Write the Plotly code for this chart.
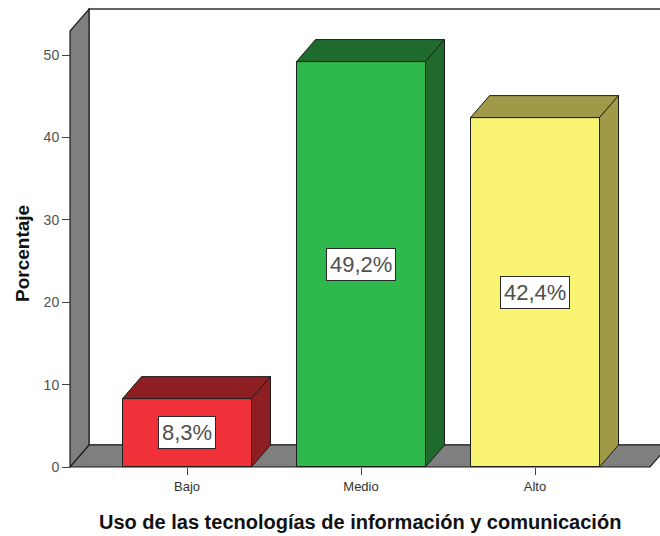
import plotly.graph_objects as go

categories = ["Bajo", "Medio", "Alto"]
values = [8.3, 49.2, 42.4]
front_colors = ["#f0313a", "#2fb84b", "#f9f472"]
dark_colors = ["#8f1e22", "#1e6b2d", "#a09a48"]
y_ticks = [0, 10, 20, 30, 40, 50]

# geometry (data units)
W, H = 660, 536
ml, mr, mt, mb = 60, 0, 6, 60
px_x = 174.0          # pixels per category unit
px_y = 8.24           # pixels per percent
x0_pix = 187          # pixel of first category
zero_pix = 467
xmin = (ml - x0_pix) / px_x
xmax = (W - mr - x0_pix) / px_x
ymin = -(H - mb - zero_pix) / px_y
ymax = (zero_pix - mt) / px_y
dx = 19 / px_x
dy = 22 / px_y
bw = 129 / px_x
hw = bw / 2
xl = (70 - x0_pix) / px_x          # front-left wall x
xr = (650 - x0_pix) / px_x         # front-right floor x
ytop = (zero_pix - 9) / px_y       # back wall top

xs = list(range(len(categories)))

def poly(pts):
    return "M " + " L ".join(f"{a},{b}" for a, b in pts) + " Z"

edge = "#1e1e1e"
gray = "#7f7f7f"
font = "Arial, Liberation Sans, sans-serif"
shapes = []
# back wall
shapes.append(dict(type="path", xref="x", yref="y", layer="below",
                   path=poly([(xl + dx, dy), (xl + dx, ytop), (xmax + 1, ytop), (xmax + 1, dy)]),
                   fillcolor="white", line=dict(color="#333333", width=1.3)))
# floor
shapes.append(dict(type="path", xref="x", yref="y", layer="below",
                   path=poly([(xl, 0), (xr, 0), (xr + dx, dy), (xl + dx, dy)]),
                   fillcolor=gray, line=dict(color=edge, width=1.2)))
# left wall
shapes.append(dict(type="path", xref="x", yref="y", layer="below",
                   path=poly([(xl, 0), (xl, ytop - dy), (xl + dx, ytop), (xl + dx, dy)]),
                   fillcolor=gray, line=dict(color=edge, width=1.2)))

for i, v in enumerate(values):
    c = xs[i]
    top = [(c - hw, v), (c - hw + dx, v + dy), (c + hw + dx, v + dy), (c + hw, v)]
    side = [(c + hw, 0), (c + hw, v), (c + hw + dx, v + dy), (c + hw + dx, dy)]
    for p in (top, side):
        shapes.append(dict(type="path", xref="x", yref="y", layer="above",
                           path=poly(p), fillcolor=dark_colors[i],
                           line=dict(color=edge, width=1)))

fig = go.Figure()
fig.add_trace(go.Bar(x=xs, y=values, width=bw,
                     marker=dict(color=front_colors, line=dict(color=edge, width=1)),
                     hoverinfo="skip", showlegend=False))

annotations = []
for i, v in enumerate(values):
    annotations.append(dict(x=xs[i], y=v / 2, xref="x", yref="y",
                            text=f"{v:.1f}".replace(".", ",") + "%", showarrow=False,
                            font=dict(family=font, size=22, color="#505050"),
                            bgcolor="white", bordercolor="#2a2a2a", borderwidth=1, borderpad=3))
annotations.append(dict(xref="paper", yref="paper",
                        x=(360 - ml) / (W - ml - mr), y=(H - mb - 522) / (H - mt - mb),
                        text="<b>Uso de las tecnologías de información y comunicación</b>",
                        showarrow=False, xanchor="center", yanchor="middle",
                        font=dict(family=font, size=20, color="#111111")))
annotations.append(dict(xref="paper", yref="paper",
                        x=(22 - ml) / (W - ml - mr), y=(H - mb - 254) / (H - mt - mb),
                        text="<b>Porcentaje</b>", textangle=-90,
                        showarrow=False, xanchor="center", yanchor="middle",
                        font=dict(family=font, size=19, color="#111111")))

fig.update_layout(
    width=W, height=H,
    margin=dict(l=ml, r=mr, t=mt, b=mb),
    paper_bgcolor="white", plot_bgcolor="white",
    shapes=shapes, annotations=annotations,
    bargap=0,
    xaxis=dict(range=[xmin, xmax], tickmode="array", tickvals=xs, ticktext=categories,
               showgrid=False, zeroline=False, showline=False,
               ticks="outside", ticklen=7, tickcolor="#444444", tickwidth=1,
               anchor="free", position=(H - mb - zero_pix) / (H - mt - mb),
               tickfont=dict(family=font, size=13, color="#333333")),
    yaxis=dict(range=[ymin, ymax], tickmode="array", tickvals=y_ticks,
               showgrid=False, zeroline=False, showline=False,
               ticks="outside", ticklen=8, tickcolor="#444444", tickwidth=1,
               anchor="free", position=(70 - ml) / (W - ml - mr),
               tickfont=dict(family=font, size=14, color="#505050")),
)

fig.write_html("out.html", config={"displayModeBar": False},
               post_script="document.body.style.margin='0';document.body.style.overflow='hidden';")
